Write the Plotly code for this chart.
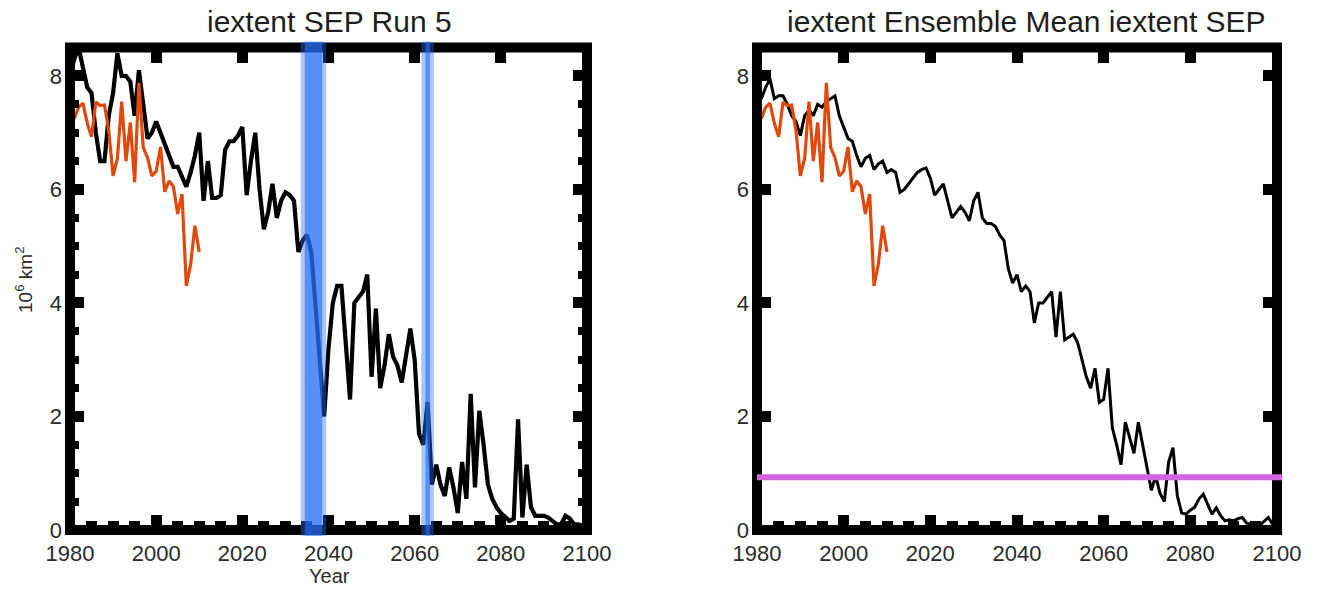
import plotly.graph_objects as go

# ---------------- data ----------------
years_model = list(range(1980, 2101))
run5 = [
    8.0, 8.3, 8.5, 8.1, 7.8, 7.7, 7.0, 6.5, 6.5, 7.3,   # 1980-1989
    7.7, 8.4, 8.0, 8.0, 7.9, 7.3, 8.1, 7.5, 6.9, 7.0,   # 1990-1999
    7.2, 7.0, 6.8, 6.6, 6.4, 6.4, 6.2, 6.05, 6.3, 6.6,  # 2000-2009
    7.0, 5.8, 6.5, 5.85, 5.85, 5.9, 6.7, 6.85, 6.85, 6.95,  # 2010-2019
    7.1, 5.9, 6.5, 7.0, 6.0, 5.3, 5.6, 6.1, 5.5, 5.8,   # 2020-2029
    5.95, 5.9, 5.8, 4.9, 5.1, 5.2, 4.9, 3.9, 2.9, 2.0,  # 2030-2039
    3.2, 4.0, 4.3, 4.3, 3.3, 2.3, 4.0, 4.1, 4.2, 4.5,   # 2040-2049
    2.7, 3.9, 2.5, 2.9, 3.45, 3.05, 2.9, 2.6, 3.05, 3.55,  # 2050-2059
    3.0, 1.7, 1.5, 2.25, 0.8, 1.15, 0.8, 0.6, 1.1, 0.75,   # 2060-2069
    0.3, 1.2, 0.55, 2.4, 0.75, 2.1, 1.5, 0.8, 0.55, 0.4,   # 2070-2079
    0.3, 0.22, 0.16, 0.2, 1.95, 0.22, 1.15, 0.4, 0.25, 0.25,  # 2080-2089
    0.25, 0.22, 0.16, 0.1, 0.1, 0.25, 0.2, 0.1, 0.1, 0.08,    # 2090-2099
    0.05,                                                     # 2100
]
ens_mean = [
    7.9, 7.6, 7.8, 7.95, 7.6, 7.65, 7.65, 7.5, 7.3, 7.2,    # 1980-1989
    6.95, 7.3, 7.4, 7.3, 7.5, 7.45, 7.55, 7.6, 7.65, 7.3,   # 1990-1999
    7.1, 6.9, 6.85, 6.6, 6.4, 6.55, 6.6, 6.35, 6.45, 6.5,   # 2000-2009
    6.3, 6.35, 6.3, 5.95, 6.0, 6.1, 6.2, 6.3, 6.35, 6.38,   # 2010-2019
    6.2, 5.9, 6.0, 6.1, 5.8, 5.5, 5.6, 5.7, 5.6, 5.45,      # 2020-2029
    5.8, 5.95, 5.5, 5.4, 5.4, 5.35, 5.2, 5.1, 4.6, 4.35,    # 2030-2039
    4.5, 4.2, 4.3, 4.2, 3.65, 4.0, 4.0, 4.1, 4.2, 3.4,      # 2040-2049
    4.2, 3.35, 3.4, 3.45, 3.3, 3.0, 2.7, 2.5, 2.85, 2.25,   # 2050-2059
    2.3, 2.85, 1.8, 1.5, 1.15, 1.9, 1.6, 1.35, 1.9, 1.5,    # 2060-2069
    1.1, 0.7, 0.95, 0.65, 0.5, 1.2, 1.45, 0.6, 0.3, 0.28,   # 2070-2079
    0.35, 0.4, 0.55, 0.63, 0.45, 0.28, 0.39, 0.25, 0.16, 0.18,  # 2080-2089
    0.16, 0.2, 0.22, 0.12, 0.1, 0.1, 0.08, 0.15, 0.22, 0.1,     # 2090-2099
    0.1,                                                        # 2100
]
years_obs = list(range(1980, 2011))
obs = [
    7.85, 7.25, 7.45, 7.52, 7.17, 6.93, 7.54, 7.48, 7.49, 7.04,
    6.24, 6.55, 7.55, 6.50, 7.18, 6.13, 7.88, 6.74, 6.56, 6.24,
    6.32, 6.75, 5.96, 6.15, 6.05, 5.57, 5.92, 4.30, 4.68, 5.36,
    4.90,
]
band_start = [2034, 2062]
band_end = [2039, 2064]
threshold = 0.93

x_tickvals = [1980, 2000, 2020, 2040, 2060, 2080, 2100]
y_tickvals = [0, 2, 4, 6, 8]
titles = ["iextent SEP Run 5", "iextent Ensemble Mean iextent SEP"]
x_title = "Year"
y_title = "10<sup>6</sup> km<sup>2</sup>"

# ---------------- layout geometry ----------------
W, H = 1319, 589


def px(v):
    return v / W


def py(v):
    return 1 - v / H


L_dom = [px(70), px(587)]
R_dom = [px(757), px(1277)]
Y_dom = [py(530), py(47.6)]
XR = [1980, 2100]
YR = [0, 8.5]

FONT = "Liberation Sans, Arial, sans-serif"
TICKCOL = "#2a2a2a"

fig = go.Figure()

# left panel
fig.add_trace(go.Scatter(x=years_model, y=run5, mode="lines",
                         line=dict(color="black", width=4.2),
                         xaxis="x", yaxis="y", showlegend=False))
fig.add_trace(go.Scatter(x=years_obs, y=obs, mode="lines",
                         line=dict(color="#e0480c", width=3.2),
                         xaxis="x", yaxis="y", showlegend=False))
# right panel
fig.add_trace(go.Scatter(x=years_model, y=ens_mean, mode="lines",
                         line=dict(color="black", width=3),
                         xaxis="x2", yaxis="y2", showlegend=False))
fig.add_trace(go.Scatter(x=years_obs, y=obs, mode="lines",
                         line=dict(color="#e0480c", width=3.2),
                         xaxis="x2", yaxis="y2", showlegend=False))
# dummy traces for mirrored tick axes
fig.add_trace(go.Scatter(x=[], y=[], xaxis="x3", yaxis="y3", showlegend=False))
fig.add_trace(go.Scatter(x=[], y=[], xaxis="x4", yaxis="y4", showlegend=False))

tickfont = dict(family=FONT, size=22, color=TICKCOL)


def xax(domain, anchor, labels=True, minor=True, side="bottom", overlay=None):
    d = dict(domain=domain, anchor=anchor, range=XR, side=side, automargin=False,
             tickmode="array", tickvals=x_tickvals, ticks="inside",
             ticklen=15, tickwidth=11, tickcolor="black",
             showticklabels=labels, tickfont=tickfont, ticklabelstandoff=8,
             showgrid=False, zeroline=False, showline=False, fixedrange=True)
    if minor:
        d["minor"] = dict(ticks="inside", dtick=5, tick0=1980, ticklen=9,
                          tickwidth=11, tickcolor="black", showgrid=False)
    if overlay:
        d["overlaying"] = overlay
    return d


def yax(domain, anchor, labels=True, minor=True, side="left", overlay=None):
    d = dict(domain=domain, anchor=anchor, range=YR, side=side, automargin=False,
             tickmode="array", tickvals=y_tickvals, ticks="inside",
             ticklen=14, tickwidth=11, tickcolor="black",
             showticklabels=labels, tickfont=tickfont, ticklabelstandoff=7,
             showgrid=False, zeroline=False, showline=False, fixedrange=True)
    if minor:
        d["minor"] = dict(ticks="inside", dtick=0.5, tick0=0, ticklen=9,
                          tickwidth=8, tickcolor="black", showgrid=False)
    if overlay:
        d["overlaying"] = overlay
    return d


fig.update_layout(
    width=W, height=H, autosize=False,
    margin=dict(l=0, r=0, t=0, b=0, pad=0, autoexpand=False),
    paper_bgcolor="white", plot_bgcolor="white",
    xaxis=xax(L_dom, "y"),
    yaxis=yax(Y_dom, "x"),
    xaxis2=xax(R_dom, "y2"),
    yaxis2=yax(Y_dom, "x2", minor=False),
    xaxis3=xax(L_dom, "y", labels=False, minor=False, side="top", overlay="x"),
    yaxis3=yax(Y_dom, "x", labels=False, minor=True, side="right", overlay="y"),
    xaxis4=xax(R_dom, "y2", labels=False, minor=False, side="top", overlay="x2"),
    yaxis4=yax(Y_dom, "x2", labels=False, minor=False, side="right", overlay="y2"),
    showlegend=False,
)

shapes = []
# frames
for dom in (L_dom, R_dom):
    shapes.append(dict(type="rect", xref="paper", yref="paper",
                       x0=dom[0], x1=dom[1], y0=Y_dom[0], y1=Y_dom[1],
                       line=dict(color="black", width=10), fillcolor="rgba(0,0,0,0)",
                       layer="above"))
# blue bands (left panel)
for s, e in zip(band_start, band_end):
    shapes.append(dict(type="rect", xref="x", yref="y domain",
                       x0=s - 0.45, x1=e + 0.45, y0=-0.012, y1=1.012,
                       fillcolor="rgba(40,110,245,0.40)", line=dict(width=0),
                       layer="above"))
    shapes.append(dict(type="rect", xref="x", yref="y domain",
                       x0=s + 0.5, x1=e - 0.45, y0=-0.012, y1=1.012,
                       fillcolor="rgba(40,110,245,0.62)", line=dict(width=0),
                       layer="above"))
# threshold line (right panel)
shapes.append(dict(type="line", xref="x2 domain", yref="y2",
                   x0=0, x1=1.01, y0=threshold, y1=threshold,
                   line=dict(color="#d463e2", width=6), layer="above"))
fig.update_layout(shapes=shapes)

ann = []
ann.append(dict(text=titles[0], x=px(329), y=py(21), xref="paper", yref="paper",
                showarrow=False, xanchor="center", yanchor="middle",
                font=dict(family=FONT, size=30, color="#1e1e1e")))
ann.append(dict(text=titles[1], x=px(1026), y=py(21), xref="paper", yref="paper",
                showarrow=False, xanchor="center", yanchor="middle",
                font=dict(family=FONT, size=30, color="#1e1e1e")))
ann.append(dict(text=x_title, x=px(329), y=py(576), xref="paper", yref="paper",
                showarrow=False, xanchor="center", yanchor="middle",
                font=dict(family=FONT, size=20, color=TICKCOL)))
ann.append(dict(text=y_title, x=px(24), y=py(280), xref="paper", yref="paper",
                showarrow=False, xanchor="center", yanchor="middle", textangle=-90,
                font=dict(family=FONT, size=19, color=TICKCOL)))
fig.update_layout(annotations=ann)

fig.write_html("out.html")
